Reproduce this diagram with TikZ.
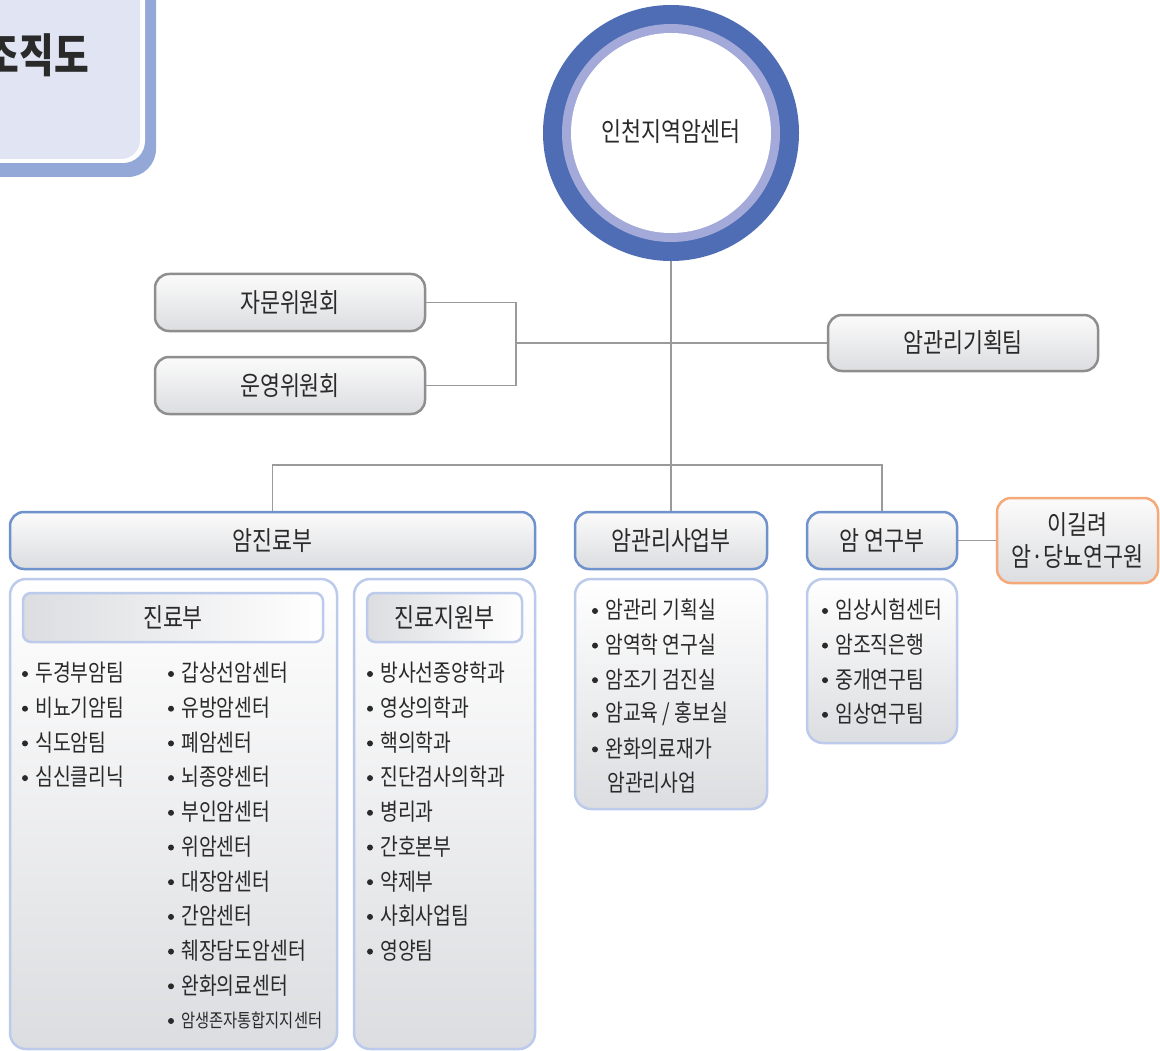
\documentclass[tikz,border=0pt]{standalone}
\usepackage{fontspec}
\setmainfont{Noto Sans CJK KR}[FakeStretch=0.82]
\definecolor{ringdark}{HTML}{4E6DB4}
\definecolor{ringlight}{HTML}{A3A9D8}
\definecolor{ttlblue}{HTML}{94A8D8}
\definecolor{ttlfill}{HTML}{E1E4F3}
\definecolor{grayline}{HTML}{8E8E8E}
\definecolor{blueline}{HTML}{6F91CC}
\definecolor{paleline}{HTML}{BCCAEB}
\definecolor{orangeline}{HTML}{F5A878}
\definecolor{connc}{HTML}{9A9A9A}
\definecolor{txt}{HTML}{2A2A2A}
\definecolor{gtop}{HTML}{FBFBFB}
\definecolor{gbot}{HTML}{DCDDE0}
\tikzset{
 box/.style={rounded corners=14pt, line width=2.5pt, top color=gtop, bottom color=gbot, inner sep=0pt, text=txt, font=\fontsize{26.5}{32}\selectfont, align=center},
 graybox/.style={box, draw=grayline},
 bluebox/.style={box, draw=blueline},
 orangebox/.style={box, draw=orangeline},
 panel/.style={rounded corners=16pt, line width=2.5pt, draw=paleline, top color=white, bottom color=gbot, inner sep=0pt},
 subhead/.style={rounded corners=8pt, line width=2.5pt, draw=paleline, left color=gbot, right color=white, inner sep=0pt, text=txt, font=\fontsize{26.5}{30}\selectfont},
 item/.style={anchor=west, inner sep=0pt, text=txt, font=\fontsize{23.6}{28}\selectfont},
 smallitem/.style={anchor=west, inner sep=0pt, text=txt, font=\fontsize{18.7}{22}\selectfont},
 bul/.style={fill=txt},
 connline/.style={draw=connc, line width=1.3pt},
}
\begin{document}
\begin{tikzpicture}[x=1pt,y=-1pt]
\path[use as bounding box, clip] (0,0) rectangle (1160,1051);
% title box (partly outside)
\fill[ttlblue, rounded corners=28pt] (-60,-60) rectangle (156,177);
\fill[white, rounded corners=22pt] (-60,-60) rectangle (145,163);
\fill[ttlfill, rounded corners=19pt] (-60,-60) rectangle (140,159);
\node[anchor=east, inner sep=0pt, text=txt, font=\fontsize{46}{50}\selectfont\bfseries] (title) at (89,55) {조직도};
% central circle
\node[circle, minimum size=256pt, fill=ringdark, inner sep=0pt] (top) at (671,133) {};
\fill[ringlight] (top.center) circle (109pt);
\fill[white] (top.center) circle (100pt);
\node[text=txt, font=\fontsize{26.5}{30}\selectfont, inner sep=0pt] (toptext) at (671,132) {인천지역암센터};
% committees
\node[graybox, minimum width=270pt, minimum height=57pt] (jamun) at (290,302.5) {자문위원회};
\node[graybox, minimum width=270pt, minimum height=57pt] (unyeong) at (290,385.5) {운영위원회};
\node[graybox, minimum width=270pt, minimum height=56pt] (plan) at (963,343) {암관리기획팀};
% departments
\node[bluebox, minimum width=525pt, minimum height=57pt] (jinryo) at (272.5,540.5) {암진료부};
\node[bluebox, minimum width=192pt, minimum height=57pt] (saeop) at (671,540.5) {암관리사업부};
\node[bluebox, minimum width=150pt, minimum height=57pt] (yeongu) at (882,540.5) {암 연구부};
\node[orangebox, minimum width=161pt, minimum height=85pt] (dang) at (1077.5,540.5) {이길려\\암·당뇨연구원};
% connectors
\coordinate (bx) at (516,343);
\coordinate (jb) at (671,465);
\path[connline] (top.south) -- (jb);
\path[connline] (jamun.east) -| (bx);
\path[connline] (unyeong.east) -| (bx);
\path[connline] (bx) -- (plan.west);
\path[connline] (jinryo.north) |- (jb) -| (yeongu.north);
\path[connline] (jb) -- (saeop.north);
\path[connline] (yeongu.east) -- (dang.west);
% panels
\node[panel, minimum width=327pt, minimum height=470pt] (p1) at (173.5,814) {};
\node[panel, minimum width=181pt, minimum height=470pt] (p2) at (444.5,814) {};
\node[panel, minimum width=192pt, minimum height=230pt] (p3) at (671,694) {};
\node[panel, minimum width=150pt, minimum height=164pt] (p4) at (882,661) {};
\node[subhead, minimum width=300pt, minimum height=49pt] (h1) at (173,617.5) {진료부};
\node[subhead, minimum width=155pt, minimum height=49pt] (h2) at (444.5,617.5) {진료지원부};
% lists
\foreach \t [count=\i from 0] in {두경부암팀,비뇨기암팀,식도암팀,심신클리닉}{
  \node[item] (a\i) at (35,{673+34.7*\i}) {\t};
  \fill[bul] (25,{674+34.7*\i}) circle (3pt);}
\foreach \t [count=\i from 0] in {갑상선암센터,유방암센터,폐암센터,뇌종양센터,부인암센터,위암센터,대장암센터,간암센터,췌장담도암센터,완화의료센터}{
  \node[item] (b\i) at (181,{673+34.7*\i}) {\t};
  \fill[bul] (171,{674+34.7*\i}) circle (3pt);}
\node[smallitem] (b10) at (181,1020) {암생존자통합지지센터};
\fill[bul] (171,1021) circle (3pt);
\foreach \t [count=\i from 0] in {방사선종양학과,영상의학과,핵의학과,진단검사의학과,병리과,간호본부,약제부,사회사업팀,영양팀}{
  \node[item] (c\i) at (380,{673+34.7*\i}) {\t};
  \fill[bul] (370,{674+34.7*\i}) circle (3pt);}
\foreach \t [count=\i from 0] in {암관리 기획실,암역학 연구실,암조기 검진실,암교육 / 홍보실,완화의료재가}{
  \node[item] (d\i) at (605,{610+34.6*\i}) {\t};
  \fill[bul] (595,{611+34.6*\i}) circle (3pt);}
\node[item] (d5) at (607,783) {암관리사업};
\foreach \t [count=\i from 0] in {임상시험센터,암조직은행,중개연구팀,임상연구팀}{
  \node[item] (e\i) at (835,{610+34.6*\i}) {\t};
  \fill[bul] (825,{611+34.6*\i}) circle (3pt);}
\end{tikzpicture}
\end{document}
